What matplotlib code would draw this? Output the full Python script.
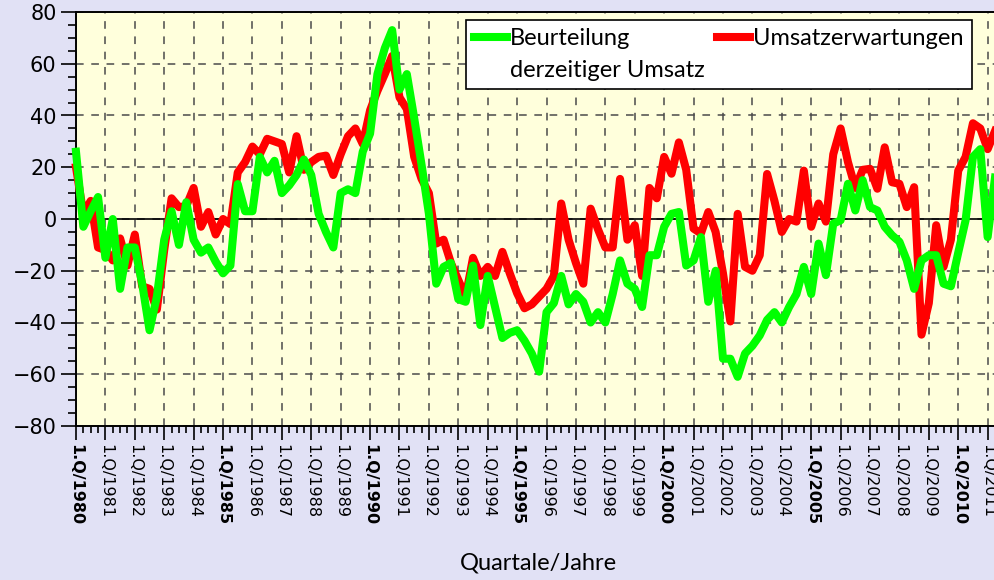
import numpy as np
import matplotlib
matplotlib.use("Agg")
import matplotlib.pyplot as plt
from matplotlib.ticker import MultipleLocator, FixedLocator
from matplotlib.lines import Line2D

# quarterly values 1.Q/1980 .. 2.Q/2011
beurteilung = [
    26, -3, 3, 8.5, -15, 0, -27, -11, -11, -25,
    -43, -30, -8, 3, -10, 6.5, -8, -13, -11, -16.5,
    -21, -18, 13.5, 3, 3, 24, 18, 22.5, 10, 13,
    17, 23, 17, 2, -5, -11, 10, 11.5, 10, 26,
    33, 56, 66, 73, 50, 56, 39, 21, 2, -25,
    -18.5, -17, -31, -32, -18, -41, -22, -34, -46, -44,
    -43, -47, -52, -59, -36, -32.5, -22, -33, -29, -32,
    -40, -36, -40, -29, -16, -25, -27, -34, -14, -14,
    -3, 2, 2.7, -18, -16, -7, -32, -20, -54, -54,
    -61, -52, -49, -45, -39, -36, -40, -34, -29, -18.5,
    -29, -9.5, -21.7, -1.8, -0.5, 13.6, 3.3, 15, 4.6, 3.3,
    -3, -6.3, -8.8, -16, -27, -16, -14, -14, -25, -26,
    -13, -0.5, 24, 27, -7, 16]

umsatzerwartungen = [
    20, 2, 7, -11, -12, -16, -7.5, -18, -6, -26,
    -27, -35, -12, 8, 4.6, 5, 12, -3, 2.7, -6,
    0, -2, 18, 22, 28, 25, 31, 30, 29, 18,
    32, 19, 22, 24, 24.5, 17, 25, 32, 35, 29,
    42, 49.5, 56, 63, 47, 42.5, 24, 15.5, 10, -9.5,
    -8, -17, -23.6, -30, -15, -22, -18.5, -22, -12.7, -21,
    -28.7, -34.5, -33, -30, -27, -22, 6, -8, -17, -25,
    4, -4, -11, -11, 15.5, -8, -2.4, -22, 12, 8,
    24, 17.5, 29.6, 19, -3.7, -5.6, 2.7, -5, -21, -39.6,
    2, -18.5, -20, -14, 17.4, 7, -5, 0, -1, 18.7,
    -3, 6, -1, 25, 35, 22, 12, 19, 19.4, 11.7,
    27.7, 14.2, 13.6, 4.6, 12.3, -44.7, -32.5, -2.4, -18.5, -8,
    18.7, 24, 37, 35, 27, 34]

years = list(range(1980, 2012))
year_labels = ["1.Q/%d" % y for y in years]

quarters = np.arange(len(beurteilung))

fig = plt.figure(figsize=(9.95, 5.8), dpi=100)
fig.patch.set_facecolor("#e1e1f5")
ax = fig.add_axes([76 / 995, 1 - 426 / 580, 919 / 995, 414 / 580])
ax.set_facecolor("#ffffdc")

l_red, = ax.plot(quarters, umsatzerwartungen, color="#ff0000", lw=5.8,
                 solid_joinstyle="round", clip_on=False, zorder=3)
l_green, = ax.plot(quarters, beurteilung, color="#00ff00", lw=5.8,
                   solid_joinstyle="round", clip_on=False, zorder=4)

ax.axhline(0, color="black", lw=1.2, zorder=2)

ax.set_xlim(0, 125)
ax.set_ylim(-80, 80)

ax.xaxis.set_major_locator(FixedLocator([4 * (y - 1980) for y in years]))
ax.xaxis.set_minor_locator(MultipleLocator(1))
ax.set_xticklabels(year_labels, rotation=270, ha="center", va="top",
                   fontsize=11.5, family="DejaVu Sans")
for lab, y in zip(ax.get_xticklabels(), years):
    if y % 5 == 0:
        lab.set_fontweight("bold")

ax.yaxis.set_major_locator(MultipleLocator(20))
ax.yaxis.set_minor_locator(MultipleLocator(5))
ax.tick_params(axis="y", which="major", direction="out", length=11, width=1.2,
               labelsize=15, pad=3)
ax.tick_params(axis="y", which="minor", direction="out", length=5.5, width=1.2)
ax.tick_params(axis="x", which="major", direction="out", length=10, width=1.2, pad=3)
ax.tick_params(axis="x", which="minor", direction="out", length=5, width=1.2)

ax.grid(True, which="major", color="#4a4a4a", lw=1.1, linestyle=(0, (5, 5)))
ax.set_axisbelow(True)

for side in ["left", "bottom", "top"]:
    ax.spines[side].set_linewidth(1.4)
    ax.spines[side].set_color("black")
ax.spines["right"].set_visible(False)

ax.set_xlabel("Quartale/Jahre", fontsize=17, family="Lato")
ax.xaxis.set_label_coords(0.503, -0.305)

# legend: second line of the green label as a handle-less entry
blank = Line2D([], [], color="none")
leg = ax.legend([l_green, blank, l_red, blank],
                ["Beurteilung", "derzeitiger Umsatz", "Umsatzerwartungen", ""],
                ncol=2, loc="upper left",
                bbox_to_anchor=(0.4244, 0.9807), borderaxespad=0,
                prop={"family": "Lato", "size": 17}, handlelength=1.4,
                handletextpad=0.1, columnspacing=0.55, borderpad=0.35,
                labelspacing=0.45, fancybox=False, framealpha=1, edgecolor="black")
leg.get_frame().set_linewidth(1.2)
leg.set_zorder(6)

plt.savefig("out.png", dpi=100, facecolor=fig.get_facecolor())
